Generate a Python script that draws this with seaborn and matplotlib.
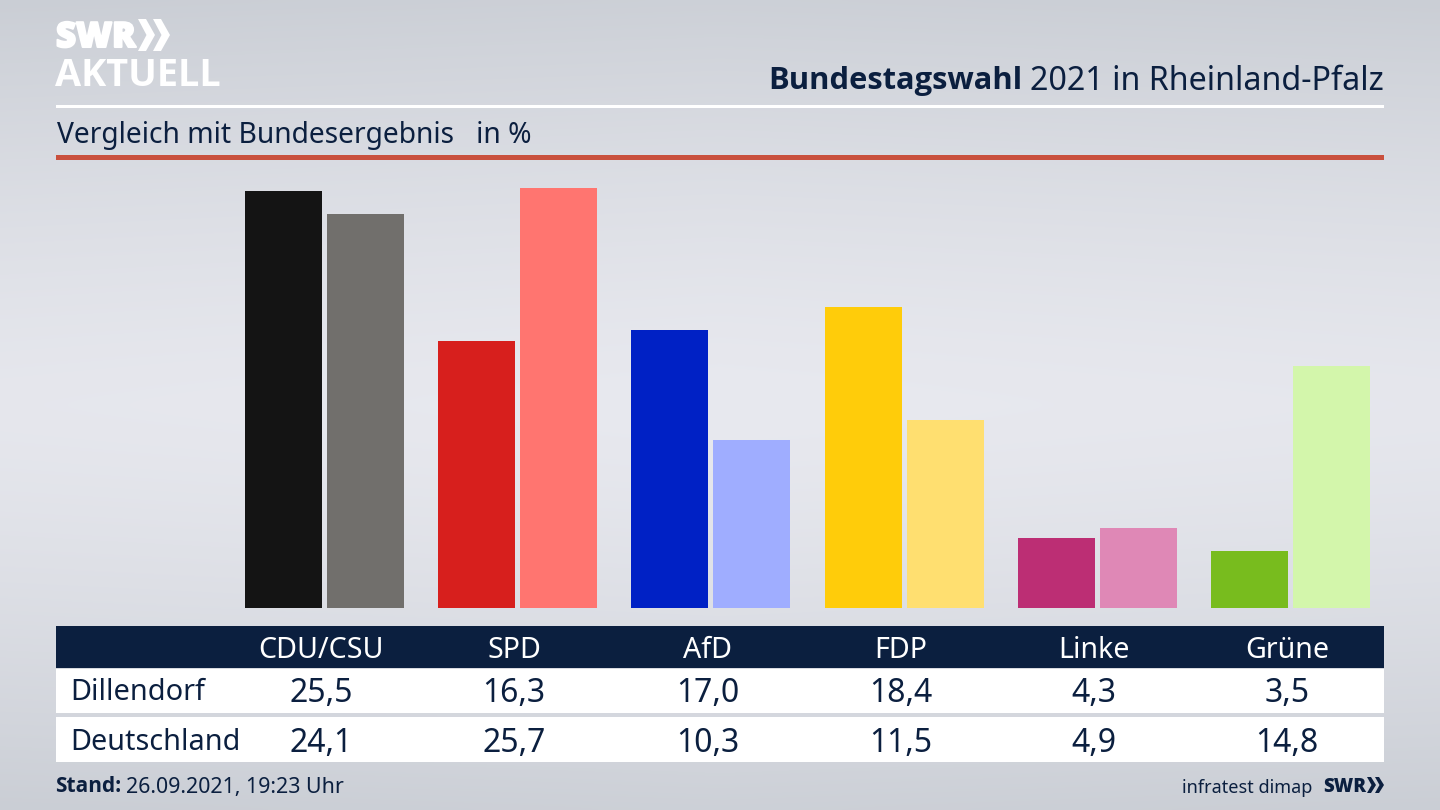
import numpy as np
import pandas as pd
import matplotlib.pyplot as plt
import matplotlib.patheffects as pe
import seaborn as sns
from matplotlib.patches import Polygon, Rectangle

# values
parties = ['CDU/CSU', 'SPD', 'AfD', 'FDP', 'Linke', 'Grüne']
dillendorf = [25.5, 16.3, 17.0, 18.4, 4.3, 3.5]
deutschland = [24.1, 25.7, 10.3, 11.5, 4.9, 14.8]
colors_dillendorf = ['#141414', '#d71f1d', '#0021c5', '#ffcc0a', '#bc2e74', '#78bc1e']
colors_deutschland = ['#716f6c', '#ff7570', '#9fadff', '#ffdf70', '#df88b6', '#d3f6ab']

NAVY = '#0b1f3f'
FONT = 'Noto Sans'
BOLD = 'Open Sans'

sns.set_theme(style='white')
plt.rcParams['font.family'] = [FONT, 'DejaVu Sans']

fig = plt.figure(figsize=(14.4, 8.1), dpi=100)

# background and everything that is not a bar, in pixel coordinates
bg = fig.add_axes([0, 0, 1, 1], zorder=0)
yy, xx = np.mgrid[0:1:162j, 0:1:288j]
shade = np.clip(np.abs(yy - 0.5) * 2, 0, 1) ** 1.4 * 0.85 + np.abs(xx - 0.5) * 0.15
low = np.array([232, 233, 239]) / 255
high = np.array([200, 204, 211]) / 255
bg.imshow(low + (high - low) * shade[..., None], extent=[0, 1440, 810, 0], aspect='auto', interpolation='bicubic')
bg.set_xlim(0, 1440)
bg.set_ylim(810, 0)
bg.axis('off')

bg.add_patch(Rectangle((56, 104.5), 1328, 3, color='white', lw=0))
bg.add_patch(Rectangle((56, 155), 1328, 5, color='#c9503d', lw=0))
bg.add_patch(Rectangle((56, 626), 1328, 42, color=NAVY, lw=0))
bg.add_patch(Rectangle((56, 669), 1328, 44, color='white', lw=0))
bg.add_patch(Rectangle((56, 717), 1328, 45, color='white', lw=0))

# logo
bg.text(56, 38, 'SWR', color='white', fontsize=25, fontweight='black', va='center', family=BOLD,
        path_effects=[pe.withStroke(linewidth=1.5, foreground='white')])
bg.text(55, 76, 'AKTUELL', color='white', fontsize=27.3, fontweight='bold', va='center', family=BOLD)
for x0 in (138, 153):
    bg.add_patch(Polygon([(x0, 19), (x0 + 8, 19), (x0 + 17, 35), (x0 + 8, 51), (x0, 51), (x0 + 8.5, 35)], color='white', lw=0))

# headline, right aligned in two parts
rest = bg.text(1384, 81, '2021 in Rheinland-Pfalz', color=NAVY, fontsize=23.2, ha='right', va='center')
fig.canvas.draw()
left = rest.get_window_extent().x0
bg.text(left - 8, 81, 'Bundestagswahl', color=NAVY, fontsize=22.2, fontweight='bold', ha='right', va='center', family=BOLD)
bg.text(57, 135, 'Vergleich mit Bundesergebnis   in %', color=NAVY, fontsize=20.3, va='center')

# bars
df = pd.DataFrame({
    'party': parties * 2,
    'value': dillendorf + deutschland,
    'series': ['Dillendorf'] * 6 + ['Deutschland'] * 6,
})
ax = fig.add_axes([228 / 1440, (810 - 608) / 810, 1159 / 1440, 448 / 810], zorder=1)
sns.barplot(data=df, x='party', y='value', hue='series', width=0.849, gap=0.06, ax=ax, legend=False, saturation=1, errorbar=None)
for bar, col in zip(ax.patches, colors_dillendorf + colors_deutschland):
    bar.set_facecolor(col)
    bar.set_edgecolor('none')
ax.set_xlim(-0.5, 5.5)
ax.set_ylim(0, 448 / 16.35)
ax.axis('off')
ax.patch.set_alpha(0)

# table
centers = [321 + 193.2 * i for i in range(6)]
for c, p, a, b in zip(centers, parties, dillendorf, deutschland):
    bg.text(c, 650, p, color='white', fontsize=20.6, ha='center', va='center')
    bg.text(c, 694, f'{a:.1f}'.replace('.', ','), color=NAVY, fontsize=23, ha='center', va='center')
    bg.text(c, 743, f'{b:.1f}'.replace('.', ','), color=NAVY, fontsize=23, ha='center', va='center')
bg.text(70, 693, 'Dillendorf', color=NAVY, fontsize=20.8, va='center')
bg.text(70, 742, 'Deutschland', color=NAVY, fontsize=20.7, va='center')

# footer
stand = bg.text(55.5, 787, 'Stand:', color=NAVY, fontsize=15, fontweight='bold', va='center', family=BOLD)
fig.canvas.draw()
bg.text(stand.get_window_extent().x1 + 4, 788, '26.09.2021, 19:23 Uhr', color=NAVY, fontsize=15.4, va='center')
bg.text(1312, 788, 'infratest dimap', color=NAVY, fontsize=13, ha='right', va='center')
bg.text(1323, 787, 'SWR', color=NAVY, fontsize=13.5, fontweight='black', va='center', family=BOLD)
for x0 in (1367, 1375):
    bg.add_patch(Polygon([(x0, 777), (x0 + 4, 777), (x0 + 9, 785), (x0 + 4, 793), (x0, 793), (x0 + 4.5, 785)], color=NAVY, lw=0))

fig.savefig('out.png', dpi=100)
